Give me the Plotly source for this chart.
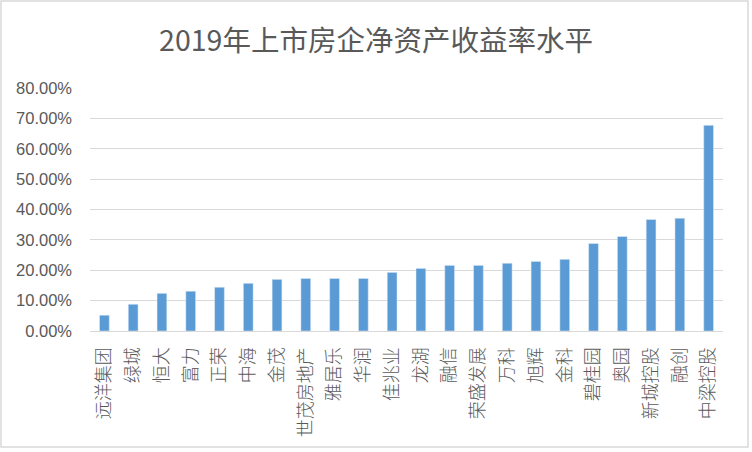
import plotly.graph_objects as go

# 2019 上市房企净资产收益率 (ROE)
companies = ["远洋集团", "绿城", "恒大", "富力", "正荣", "中海", "金茂", "世茂房地产",
             "雅居乐", "华润", "佳兆业", "龙湖", "融信", "荣盛发展", "万科", "旭辉",
             "金科", "碧桂园", "奥园", "新城控股", "融创", "中梁控股"]
roe = [0.052, 0.088, 0.124, 0.131, 0.144, 0.157, 0.170, 0.173,
       0.173, 0.173, 0.193, 0.206, 0.216, 0.216, 0.223, 0.229,
       0.236, 0.288, 0.311, 0.367, 0.371, 0.677]
y_ticks = [0, 0.1, 0.2, 0.3, 0.4, 0.5, 0.6, 0.7, 0.8]

W, H = 752, 452
ml, mr, mt, mb = 90, 29, 88, 121
pw, ph = W - ml - mr, H - mt - mb

fig = go.Figure()
fig.add_trace(go.Bar(x=companies, y=roe, marker_color="#5b9bd5", width=0.34))

fig.update_layout(
    width=W, height=H,
    margin=dict(l=ml, r=mr, t=mt, b=mb, autoexpand=False),
    plot_bgcolor="white", paper_bgcolor="white",
    showlegend=False,
    title=dict(text="2019年上市房企净资产收益率水平", x=0.5, xanchor="center",
               y=1 - 41 / H, yanchor="middle",
               font=dict(family="Noto Sans CJK SC", size=28.5, color="#595959")),
    font=dict(family="Noto Sans CJK SC", color="#595959"),
)
fig.update_xaxes(
    tickangle=-90,
    tickfont=dict(family="Noto Sans CJK SC", size=18, color="#595959", weight=300),
    showline=True, linecolor="#d9d9d9", linewidth=1, showgrid=False, ticks="",
    ticklabelstandoff=8, automargin=False,
)
fig.update_yaxes(
    range=[0, 0.8], tickvals=y_ticks, tickformat=".2%",
    tickfont=dict(family="Liberation Sans", size=16.5, color="#595959"),
    showgrid=True, gridcolor="#d9d9d9", gridwidth=1, zeroline=False,
    showline=False, ticks="", ticklabelstandoff=17, automargin=False,
)

# outer chart border
fig.add_shape(type="rect", xref="paper", yref="paper",
              x0=-(ml - 1) / pw, x1=1 + (mr - 4) / pw,
              y0=-(mb - 5) / ph, y1=1 + (mt - 1) / ph,
              line=dict(color="#d9d9d9", width=1.5))

# drop the page's default body margin so the figure sits at the window corner
fig.write_html("out.html", config={"displayModeBar": False},
               post_script="document.body.style.margin='0';")
